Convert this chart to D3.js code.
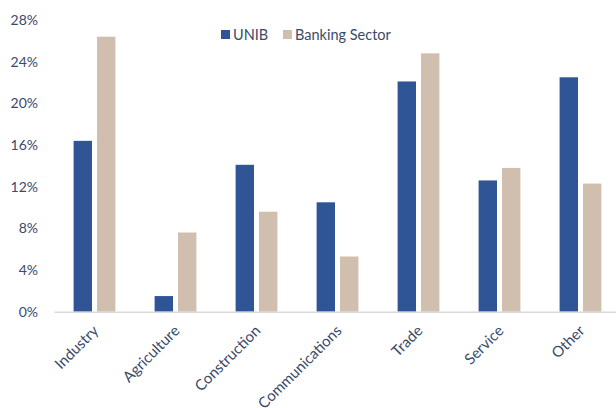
<!DOCTYPE html>
<html>
<head>
<meta charset="utf-8">
<script src="https://cdn.jsdelivr.net/npm/d3@7"></script>
<style>
  html, body { margin: 0; padding: 0; background: #fff; }
  svg text { font-family: Lato, "Open Sans", sans-serif; fill: #3A4A6B; }
</style>
</head>
<body>
<svg id="chart" width="616" height="408"></svg>
<script>
// Loan portfolio structure by sector (% share)
const categories = ["Industry", "Agriculture", "Construction", "Communications", "Trade", "Service", "Other"];
const seriesNames = ["UNIB", "Banking Sector"];
const unib = [16.4, 1.5, 14.1, 10.5, 22.1, 12.6, 22.5];
const bankingSector = [26.4, 7.6, 9.6, 5.3, 24.8, 13.8, 12.3];
const yTicks = [0, 4, 8, 12, 16, 20, 24, 28];
const colors = ["#2F5597", "#D0BFAE"];

const svg = d3.select("#chart");
const margin = { left: 54, right: -5 };
const width = 616;

const x = d3.scaleBand()
  .domain(categories)
  .range([margin.left, width - margin.right])
  .paddingInner(0)
  .paddingOuter(0);

const y = d3.scaleLinear()
  .domain([0, 28])
  .range([311.7, 20]);

const barW = 18.4, barGap = 5;
const groupW = barW * 2 + barGap;

const rows = categories.map((c, i) => ({ cat: c, vals: [unib[i], bankingSector[i]] }));

// Bars
const groups = svg.append("g").selectAll("g")
  .data(rows)
  .join("g")
  .attr("transform", d => `translate(${x(d.cat) + x.bandwidth() / 2 - groupW / 2},0)`);

groups.selectAll("rect")
  .data(d => d.vals.map((v, j) => ({ v, j })))
  .join("rect")
  .attr("x", d => d.j * (barW + barGap))
  .attr("width", barW)
  .attr("y", d => y(d.v))
  .attr("height", d => y(0) - y(d.v))
  .attr("fill", d => colors[d.j]);

// Y axis labels
const yAxis = d3.axisLeft(y)
  .tickValues(yTicks)
  .tickFormat(d => d + "%")
  .tickSize(0)
  .tickPadding(0);
svg.append("g")
  .attr("transform", "translate(38,0)")
  .call(yAxis)
  .call(g => g.select(".domain").remove())
  .call(g => g.selectAll("text")
    .style("font-size", "14px")
    .style("fill", "#3A4A6B")
    .style("font-family", "Lato, 'Open Sans', sans-serif"));

// X axis
const xAxis = d3.axisBottom(x).tickSize(0).tickPadding(0);
svg.append("g")
  .attr("transform", `translate(0,${y(0)})`)
  .call(xAxis)
  .call(g => g.select(".domain").attr("stroke", "#D9D9D9").attr("stroke-width", 1.5))
  .call(g => g.selectAll("text")
    .attr("text-anchor", "end")
    .attr("dy", "0")
    .attr("y", 0)
    .attr("transform", "translate(5,20) rotate(-45)")
    .style("font-size", "15px")
    .style("fill", "#3A4A6B")
    .style("font-family", "Lato, 'Open Sans', sans-serif"));

// Legend
const legendPos = [221, 283];
const legend = svg.append("g").selectAll("g")
  .data(seriesNames)
  .join("g")
  .attr("transform", (d, i) => `translate(${legendPos[i]},30)`);
legend.append("rect").attr("width", 9).attr("height", 9).attr("fill", (d, i) => colors[i]);
legend.append("text")
  .attr("x", 12).attr("y", 9.5)
  .style("font-size", "14.5px")
  .text(d => d);
</script>
</body>
</html>
